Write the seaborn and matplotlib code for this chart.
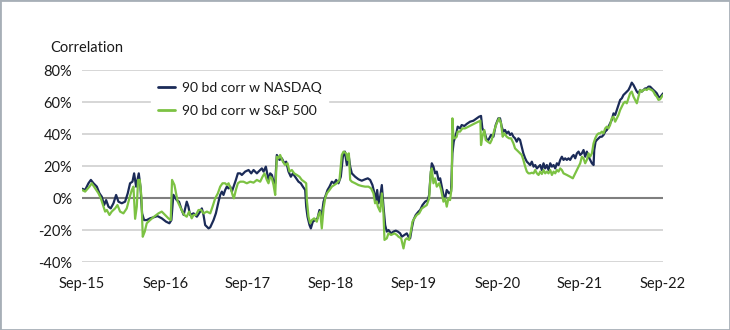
import numpy as np
import pandas as pd
import matplotlib
matplotlib.use("Agg")
import matplotlib.pyplot as plt
from matplotlib.patches import Rectangle
from matplotlib.ticker import FuncFormatter
import seaborn as sns

# ---------------- data (decimal years, correlation in %) ----------------
nasdaq_year = [
    2015.667, 2015.703, 2015.743, 2015.772, 2015.804, 2015.844, 2015.876, 2015.904, 2015.932, 2015.956,
    2015.984, 2016.012, 2016.045, 2016.077, 2016.105, 2016.145, 2016.185, 2016.217, 2016.245, 2016.274,
    2016.294, 2016.318, 2016.350, 2016.370, 2016.390, 2016.414, 2016.446, 2016.486, 2016.527, 2016.575,
    2016.627, 2016.679, 2016.719, 2016.743, 2016.767,
    2016.807, 2016.835, 2016.867, 2016.891, 2016.928, 2016.948, 2016.968, 2017.008, 2017.048, 2017.088,
    2017.108, 2017.128, 2017.148, 2017.189, 2017.209, 2017.249, 2017.277, 2017.309, 2017.329, 2017.349,
    2017.369, 2017.389, 2017.409, 2017.430, 2017.450, 2017.470, 2017.490, 2017.518, 2017.542, 2017.570,
    2017.590, 2017.630, 2017.671, 2017.703, 2017.731, 2017.771, 2017.791, 2017.831, 2017.851, 2017.879,
    2017.911,
    2017.932, 2017.952, 2017.972, 2017.992, 2018.012, 2018.044, 2018.073, 2018.101, 2018.125, 2018.153,
    2018.181, 2018.205, 2018.233, 2018.273, 2018.301, 2018.326, 2018.354, 2018.366, 2018.382, 2018.406,
    2018.422, 2018.446, 2018.474, 2018.502, 2018.526, 2018.554, 2018.575, 2018.595, 2018.623, 2018.647,
    2018.675, 2018.703, 2018.727, 2018.755, 2018.783, 2018.808, 2018.832, 2018.856, 2018.880, 2018.896,
    2018.916, 2018.956, 2018.996, 2019.036, 2019.077,
    2019.109, 2019.137, 2019.165, 2019.189, 2019.205, 2019.222, 2019.238, 2019.258, 2019.278, 2019.298,
    2019.318, 2019.338, 2019.358, 2019.390, 2019.418, 2019.446, 2019.471, 2019.499, 2019.519, 2019.551,
    2019.579, 2019.599, 2019.619, 2019.639, 2019.659, 2019.687, 2019.720, 2019.740, 2019.768, 2019.800,
    2019.832, 2019.848, 2019.864, 2019.880, 2019.900, 2019.920, 2019.940, 2019.961, 2019.981, 2020.001,
    2020.021, 2020.041, 2020.061, 2020.089, 2020.113, 2020.129, 2020.145,
    2020.181, 2020.193, 2020.221, 2020.241, 2020.273, 2020.302, 2020.342, 2020.382, 2020.422, 2020.450,
    2020.474, 2020.490, 2020.514, 2020.543, 2020.563, 2020.595, 2020.623, 2020.651, 2020.683, 2020.703,
    2020.723, 2020.743, 2020.763, 2020.783, 2020.804, 2020.824, 2020.844, 2020.864, 2020.884, 2020.904,
    2020.924, 2020.944, 2020.964, 2020.984, 2021.004, 2021.024, 2021.044, 2021.064, 2021.084, 2021.105,
    2021.125, 2021.145, 2021.165, 2021.185, 2021.205, 2021.225, 2021.245, 2021.265, 2021.285, 2021.306,
    2021.326, 2021.346, 2021.366, 2021.386, 2021.406,
    2021.426, 2021.446, 2021.466, 2021.486, 2021.506, 2021.526, 2021.546, 2021.567, 2021.587, 2021.607,
    2021.627, 2021.647, 2021.667, 2021.687, 2021.707, 2021.727, 2021.747, 2021.767, 2021.787, 2021.808,
    2021.828, 2021.836, 2021.852, 2021.868, 2021.888, 2021.908, 2021.928, 2021.948, 2021.968, 2021.988,
    2022.008, 2022.028, 2022.048, 2022.069, 2022.089, 2022.109, 2022.129, 2022.149, 2022.169, 2022.189,
    2022.209, 2022.229, 2022.249, 2022.269, 2022.289, 2022.310, 2022.330, 2022.350, 2022.370, 2022.390,
    2022.410, 2022.430, 2022.450, 2022.470, 2022.490, 2022.510, 2022.530, 2022.550, 2022.571, 2022.591,
    2022.611, 2022.631, 2022.651, 2022.667,
]
nasdaq_corr = [
    5.8, 5.0, 9.2, 11.3, 9.2, 7.1, 2.9, 0.8, -4.4, -1.3,
    -5.4, -6.5, -3.3, 1.9, -2.3, -3.3, -2.3, 2.9, 9.2, 10.2,
    15.4, 7.1, 15.4, 7.1, -9.6, -13.8, -13.8, -12.7, -12.1, -11.3,
    -12.7, -14.8, -15.8, -13.8, 2.0,
    -1.3, -2.3, -7.5, -10.6, -2.3, -5.4, -10.6, -9.6, -11.7, -8.5,
    -6.5, -10.6, -16.9, -19.0, -18.3, -13.8, -9.6, -2.3, 1.9, 4.0,
    1.9, 5.0, 7.1, 6.0, 7.1, 4.0, 7.1, 11.3, 15.4, 15.4,
    14.4, 16.5, 17.5, 15.4, 17.5, 15.4, 16.5, 18.5, 16.5, 19.6,
    11.3,
    15.4, 14.4, 10.2, 9.2, 26.9, 23.8, 24.8, 21.7, 22.7, 16.5,
    13.3, 15.4, 13.3, 10.2, 9.2, 7.1, 5.0, -5.4, -11.7, -16.9,
    -19.0, -14.8, -13.8, -12.7, -7.5, -10.6, -2.3, 0.8, 5.0, 7.1,
    10.2, 9.2, 11.3, 9.2, 13.3, 25.8, 29.0, 20.6, 25.8, 19.6,
    15.4, 13.3, 11.7, 10.8, 11.7,
    12.3, 11.3, 8.1, 2.9, -1.3, 5.0, -3.3, 0.8, 8.1, -5.4,
    -16.9, -21.0, -20.0, -22.1, -21.0, -20.4, -21.0, -22.1, -24.2, -23.1,
    -22.1, -24.2, -25.2, -19.0, -13.8, -10.6, -8.5, -7.5, -4.4, -2.3,
    -1.3, 1.9, 13.3, 21.7, 19.6, 15.4, 16.5, 11.3, 12.3, 7.1,
    1.9, -0.2, 5.0, 2.9, 4.0, 27.9, 35.2,
    41.5, 44.6, 43.5, 45.6, 45.0, 46.3, 47.7, 48.3, 49.8, 50.8,
    51.3, 43.5, 41.5, 36.3, 36.3, 39.4, 38.3, 45.6, 49.8, 49.8,
    44.6, 41.5, 42.5, 40.4, 41.5, 39.4, 40.4, 38.3, 37.3, 35.2,
    37.3, 36.3, 32.1, 27.9, 24.8, 22.7, 21.7, 20.6, 22.7, 19.6,
    20.6, 18.5, 19.6, 20.6, 17.5, 21.7, 18.5, 20.6, 17.5, 21.7,
    19.6, 20.6, 18.5, 21.7, 20.6,
    23.8, 25.8, 23.8, 24.8, 23.8, 24.8, 23.8, 25.8, 26.9, 24.8,
    27.9, 29.0, 26.9, 27.9, 30.0, 25.8, 29.0, 25.8, 23.8, 21.7,
    20.6, 30.0, 35.2, 36.3, 37.3, 38.3, 38.3, 39.4, 41.5, 42.5,
    44.6, 46.7, 48.8, 52.9, 51.9, 55.0, 58.1, 61.3, 62.3, 64.4,
    65.4, 66.5, 67.5, 69.6, 72.1, 70.6, 68.5, 66.5, 65.4, 67.5,
    66.5, 67.5, 68.5, 68.5, 69.6, 69.6, 68.5, 67.5, 66.5, 65.4,
    63.3, 62.9, 64.4, 65.4,
]

spx_year = [
    2015.667, 2015.703, 2015.755, 2015.783, 2015.824, 2015.864, 2015.892, 2015.924, 2015.944, 2015.964,
    2015.996, 2016.024, 2016.065, 2016.093, 2016.125, 2016.165, 2016.205, 2016.237, 2016.266, 2016.286,
    2016.306, 2016.326, 2016.342, 2016.362, 2016.382, 2016.398, 2016.422, 2016.446, 2016.486, 2016.534,
    2016.587, 2016.627, 2016.667, 2016.707, 2016.735, 2016.751, 2016.780,
    2016.819, 2016.847, 2016.875, 2016.899, 2016.928, 2016.956, 2016.988, 2017.008, 2017.036, 2017.068,
    2017.100, 2017.128, 2017.169, 2017.209, 2017.237, 2017.269, 2017.301, 2017.329, 2017.357, 2017.389,
    2017.409, 2017.430, 2017.462, 2017.478, 2017.494, 2017.518, 2017.542, 2017.570, 2017.610, 2017.650,
    2017.691, 2017.731, 2017.771, 2017.811, 2017.839, 2017.863, 2017.891, 2017.911,
    2017.932, 2017.952, 2017.972, 2017.992, 2018.012, 2018.032, 2018.052, 2018.085, 2018.113, 2018.141,
    2018.165, 2018.193, 2018.221, 2018.253, 2018.285, 2018.313, 2018.342, 2018.366, 2018.374, 2018.394,
    2018.414, 2018.434, 2018.462, 2018.494, 2018.514, 2018.534, 2018.554, 2018.575, 2018.595, 2018.615,
    2018.647, 2018.675, 2018.703, 2018.735, 2018.767, 2018.795, 2018.816, 2018.848, 2018.864, 2018.880,
    2018.896, 2018.916, 2018.956, 2018.996, 2019.036, 2019.077,
    2019.117, 2019.149, 2019.177, 2019.197, 2019.218, 2019.230, 2019.258, 2019.278, 2019.298, 2019.310,
    2019.338, 2019.358, 2019.390, 2019.430, 2019.459, 2019.479, 2019.511, 2019.539, 2019.559, 2019.579,
    2019.607, 2019.631, 2019.647, 2019.671, 2019.699, 2019.728, 2019.760, 2019.792, 2019.820, 2019.848,
    2019.868, 2019.880, 2019.900, 2019.920, 2019.940, 2019.969, 2019.993, 2020.021, 2020.041, 2020.061,
    2020.081, 2020.101, 2020.121, 2020.129, 2020.141, 2020.161,
    2020.181, 2020.193, 2020.221, 2020.249, 2020.281, 2020.322, 2020.362, 2020.402, 2020.442, 2020.466,
    2020.474, 2020.490, 2020.514, 2020.530, 2020.555, 2020.583, 2020.603, 2020.635, 2020.663, 2020.691,
    2020.715, 2020.735, 2020.755, 2020.783, 2020.812, 2020.836, 2020.864, 2020.884, 2020.904, 2020.924,
    2020.944, 2020.964, 2020.984, 2021.004, 2021.024, 2021.044, 2021.064, 2021.084, 2021.105, 2021.125,
    2021.145, 2021.165, 2021.185, 2021.205, 2021.225, 2021.245, 2021.265, 2021.285, 2021.306, 2021.326,
    2021.346, 2021.366, 2021.386, 2021.406,
    2021.426, 2021.446, 2021.466, 2021.506, 2021.546, 2021.578, 2021.607, 2021.627, 2021.647, 2021.667,
    2021.687, 2021.707, 2021.727, 2021.747, 2021.767, 2021.787, 2021.808, 2021.828, 2021.848, 2021.868,
    2021.888, 2021.908, 2021.928, 2021.948, 2021.968, 2021.988, 2022.008, 2022.028, 2022.048, 2022.069,
    2022.089, 2022.109, 2022.129, 2022.149, 2022.169, 2022.189, 2022.209, 2022.229, 2022.249, 2022.269,
    2022.289, 2022.310, 2022.330, 2022.350, 2022.370, 2022.390, 2022.410, 2022.430, 2022.450, 2022.470,
    2022.490, 2022.510, 2022.530, 2022.550, 2022.571, 2022.591, 2022.611, 2022.631, 2022.651, 2022.667,
]
spx_corr = [
    5.0, 4.0, 7.1, 9.2, 6.0, 2.9, -0.2, -5.4, -8.5, -7.5,
    -10.6, -8.5, -6.5, -4.4, -8.5, -9.6, -6.5, -0.2, 5.0, 7.1,
    -13.0, -5.4, 11.3, 11.3, 0.8, -24.2, -21.0, -15.8, -13.8, -11.7,
    -9.6, -8.5, -10.6, -12.7, -13.8, 11.3, 8.1,
    -2.3, -5.4, -8.5, -10.6, -11.7, -8.5, -12.7, -10.6, -10.6, -7.5,
    -7.5, -9.6, -8.5, -9.6, -5.4, -0.2, 2.9, 7.1, 9.2, 9.2,
    8.1, 9.2, 5.0, 1.9, -0.2, 5.0, 9.2, 10.2, 10.2, 9.2,
    10.2, 9.6, 11.3, 10.2, 13.3, 15.4, 11.3, 9.2,
    13.3, 12.3, 8.1, 1.9, 25.8, 24.8, 26.9, 22.7, 20.6, 21.7,
    16.5, 17.5, 15.4, 14.4, 13.3, 11.3, 10.2, 9.2, -1.3, -11.7,
    -15.8, -13.8, -12.7, -14.8, -10.6, -8.5, -19.0, -6.5, -0.2, 2.9,
    5.0, 7.1, 8.1, 9.2, 11.3, 26.9, 29.0, 27.9, 23.8, 27.9,
    11.3, 10.2, 9.2, 8.1, 7.5, 7.1,
    7.1, 6.0, 2.9, -3.3, -2.3, -5.4, -8.5, 2.9, -9.6, -26.2,
    -25.2, -22.1, -23.1, -22.1, -23.1, -24.2, -25.2, -31.5, -26.2, -25.2,
    -26.2, -20.0, -14.8, -12.7, -10.6, -9.6, -6.5, -5.4, -4.4, -0.2,
    16.5, 18.5, 9.2, 12.3, 7.1, 9.2, 5.0, -2.3, -0.2, -5.4,
    -0.2, -1.3, 7.1, 49.8, 38.3, 37.3,
    38.3, 41.5, 41.5, 43.5, 43.5, 44.6, 45.6, 46.7, 47.7, 48.3,
    33.1, 38.3, 42.5, 36.3, 35.2, 34.2, 36.3, 42.5, 46.7, 49.8,
    46.7, 38.3, 40.4, 38.3, 37.3, 37.3, 34.2, 31.0, 30.0, 29.0,
    27.9, 26.9, 23.8, 19.6, 16.5, 15.4, 15.4, 15.8, 15.4, 17.5,
    15.4, 14.4, 16.5, 15.0, 17.5, 15.4, 16.5, 15.4, 17.5, 14.4,
    16.5, 15.4, 17.5, 16.5,
    18.5, 17.5, 15.4, 14.4, 13.3, 12.3, 15.4, 17.5, 19.6, 21.7,
    25.8, 24.8, 21.7, 23.8, 27.9, 25.8, 27.9, 34.2, 37.3, 39.4,
    40.4, 40.4, 41.5, 40.4, 43.5, 44.6, 43.5, 45.6, 49.8, 50.8,
    47.7, 49.8, 51.9, 55.0, 57.1, 59.2, 60.2, 59.2, 62.3, 65.4,
    66.5, 63.3, 61.3, 59.2, 63.3, 67.5, 66.5, 67.5, 67.9, 67.5,
    68.5, 67.9, 67.5, 66.5, 64.4, 63.3, 61.3, 61.7, 63.3, 64.4,
]

series_names = ["90 bd corr w NASDAQ", "90 bd corr w S&P 500"]
series_colors = ["#1b2b58", "#7cc243"]
tick_years = [2015, 2016, 2017, 2018, 2019, 2020, 2021, 2022]
tick_labels = ["Sep-15", "Sep-16", "Sep-17", "Sep-18", "Sep-19", "Sep-20", "Sep-21", "Sep-22"]
y_ticks = [-40, -20, 0, 20, 40, 60, 80]


def to_date(y):
    yr = int(np.floor(y))
    return pd.Timestamp(year=yr, month=1, day=1) + pd.Timedelta(days=(y - yr) * 365.25)


df = pd.concat([
    pd.DataFrame({"date": [to_date(v) for v in nasdaq_year], "corr": nasdaq_corr,
                  "series": series_names[0]}),
    pd.DataFrame({"date": [to_date(v) for v in spx_year], "corr": spx_corr,
                  "series": series_names[1]}),
], ignore_index=True)

sns.set_theme(style="white")
plt.rcParams["font.family"] = ["Lato", "DejaVu Sans"]

fig = plt.figure(figsize=(7.3, 3.3), dpi=100)
fig.patch.set_facecolor("white")
ax = fig.add_axes([82 / 730, 68 / 330, 581 / 730, 192 / 330])

sns.lineplot(data=df, x="date", y="corr", hue="series", hue_order=series_names,
             palette=dict(zip(series_names, series_colors)), estimator=None,
             sort=False, linewidth=1.6, ax=ax, zorder=3)

ax.set_ylim(-40, 80)
ax.set_xlim(pd.Timestamp("2015-09-01"), pd.Timestamp("2022-09-01"))
ax.set_yticks(y_ticks)
ax.yaxis.set_major_formatter(FuncFormatter(lambda v, p: f"{int(v)}%"))
ax.set_xticks([pd.Timestamp(f"{y}-09-01") for y in tick_years])
ax.set_xticklabels(tick_labels)
ax.set_xlabel("")
ax.set_ylabel("")
for s in ax.spines.values():
    s.set_visible(False)
ax.grid(False)
for v in y_ticks:
    if v == 0:
        ax.axhline(v, color="#7f7f7f", lw=1.5, zorder=1.5)
    else:
        ax.axhline(v, color="#d6d6d6", lw=1.4, zorder=1)
ax.tick_params(axis="both", length=0, labelsize=10.5, colors="#1a1a1a")
ax.tick_params(axis="y", pad=7)
ax.tick_params(axis="x", pad=11)

handles, labels = ax.get_legend_handles_labels()
leg = ax.legend(handles, labels, loc="upper left",
                bbox_to_anchor=(144 / 730, 1 - 68 / 330), bbox_transform=fig.transFigure,
                frameon=True, facecolor="white", edgecolor="white", framealpha=1,
                fontsize=10, handlelength=1.2, handletextpad=0.5,
                labelspacing=0.8, borderpad=0.5, fancybox=False)
for t in leg.get_texts():
    t.set_color("#1a1a1a")
for h in leg.get_lines():
    h.set_linewidth(2)
leg.set_zorder(5)

fig.text(50 / 730, 1 - 48 / 330, "Correlation", ha="left", va="center",
         fontsize=10.5, color="#1a1a1a")

fig.patches.append(Rectangle((0, 0), 1, 1, transform=fig.transFigure, fill=False,
                             edgecolor="#a7afb7", linewidth=2, zorder=10))

fig.savefig("out.png", dpi=100, facecolor="white")
